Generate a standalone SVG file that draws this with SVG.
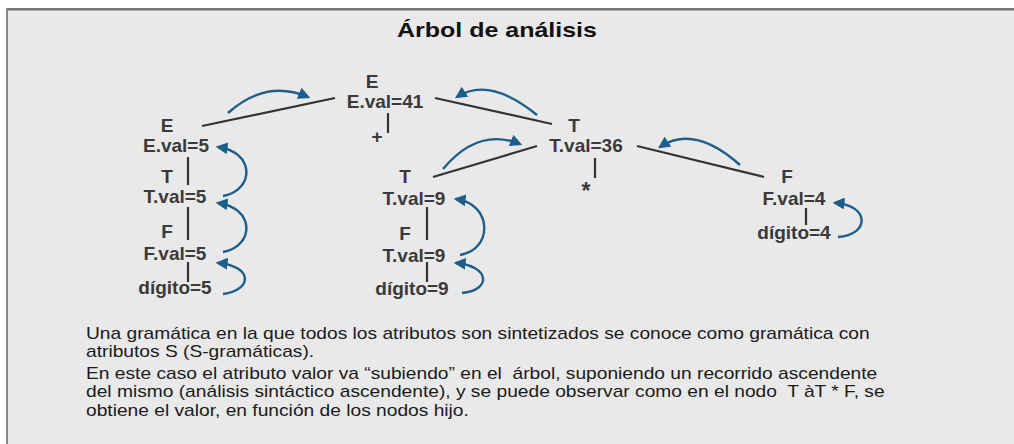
<svg xmlns="http://www.w3.org/2000/svg" width="1014" height="444" viewBox="0 0 1014 444">
<defs>
<marker id="ah" viewBox="0 0 10 10" refX="8" refY="5" markerWidth="5" markerHeight="5" orient="auto" markerUnits="strokeWidth">
<path d="M0,0 L10,5 L0,10 z" fill="#1d5e8a"/>
</marker>
<style>
.lbl{font-family:"Liberation Sans",Arial,sans-serif;font-weight:bold;font-size:19px;fill:#3a3a3a;text-anchor:middle}
.edge{stroke:#333;stroke-width:2.2;fill:none}
.arr{stroke:#1d5e8a;stroke-width:2.4;fill:none;marker-end:url(#ah)}
.body{font-family:"Liberation Sans",Arial,sans-serif;font-size:16px;fill:#1a1a1a;white-space:pre}
.title{font-family:"Liberation Sans",Arial,sans-serif;font-weight:bold;font-size:21px;fill:#111;text-anchor:middle}
</style>
</defs>
<rect x="0" y="0" width="1014" height="444" fill="#ffffff"/>
<rect x="6" y="8" width="1008" height="436" fill="#e9e9e9"/>
<rect x="6" y="8" width="1008" height="2.5" fill="#777"/>
<rect x="6" y="8" width="2" height="436" fill="#888"/>
<g id="title" transform="scale(1.19,1)"><text class="title" x="417.6" y="37">Árbol de análisis</text></g>
<g id="connectors">
<line class="edge" x1="202" y1="126" x2="335" y2="98"/>
<line class="edge" x1="435" y1="98" x2="552" y2="124"/>
<line class="edge" x1="433" y1="177" x2="537" y2="146"/>
<line class="edge" x1="637" y1="146" x2="764" y2="177"/>
<line class="edge" x1="388" y1="113" x2="388" y2="133"/>
<line class="edge" x1="188" y1="157" x2="188" y2="185"/>
<line class="edge" x1="188" y1="207" x2="188" y2="240"/>
<line class="edge" x1="188" y1="262" x2="188" y2="282"/>
<line class="edge" x1="595" y1="158" x2="595" y2="178"/>
<line class="edge" x1="427" y1="207" x2="427" y2="240"/>
<line class="edge" x1="427" y1="262" x2="427" y2="282"/>
<line class="edge" x1="806" y1="208" x2="806" y2="225"/>
<path class="arr" d="M228,113 Q266,79 308,97"/>
<path class="arr" d="M537,115 Q489,76 457,97"/>
<path class="arr" d="M443,169 Q478,127 520,144"/>
<path class="arr" d="M740,165 Q694,124 660,147"/>
<path class="arr" d="M838,237 C870,235 870,205 835,203"/>
<path class="arr" d="M223,196 C255,190 255,152 218,147"/>
<path class="arr" d="M223,252 C255,246 255,208 218,203"/>
<path class="arr" d="M223,294 C253,290 253,266 218,263"/>
<path class="arr" d="M460,255 C493,250 493,204 456,199"/>
<path class="arr" d="M462,293 C492,290 490,266 456,263"/>
</g>
<g id="node-E41"><text class="lbl" x="372" y="88">E</text><text class="lbl" x="385" y="108">E.val=41</text><text class="lbl" x="377" y="143">+</text></g>
<g id="node-E5"><text class="lbl" x="167" y="132">E</text><text class="lbl" x="176" y="152">E.val=5</text></g>
<g id="node-T5"><text class="lbl" x="167" y="183">T</text><text class="lbl" x="175" y="203">T.val=5</text></g>
<g id="node-F5"><text class="lbl" x="167" y="238">F</text><text class="lbl" x="175" y="260">F.val=5</text></g>
<g id="node-d5"><text class="lbl" x="175" y="294">dígito=5</text></g>
<g id="node-T36"><text class="lbl" x="574" y="132">T</text><text class="lbl" x="586" y="152">T.val=36</text><text class="lbl" x="586" y="199" style="font-size:23px">*</text></g>
<g id="node-T9"><text class="lbl" x="405" y="183">T</text><text class="lbl" x="414" y="205">T.val=9</text></g>
<g id="node-F9"><text class="lbl" x="405" y="240">F</text><text class="lbl" x="414" y="262">T.val=9</text></g>
<g id="node-d9"><text class="lbl" x="412" y="295">dígito=9</text></g>
<g id="node-F4"><text class="lbl" x="787" y="183">F</text><text class="lbl" x="794" y="205">F.val=4</text></g>
<g id="node-d4"><text class="lbl" x="794" y="239">dígito=4</text></g>
<g id="caption" transform="scale(1.2,1)">
<text class="body" x="71.67" y="339">Una gramática en la que todos los atributos son sintetizados se conoce como gramática con</text>
<text class="body" x="71.67" y="357">atributos S (S-gramáticas).</text>
<text class="body" x="71.67" y="379" xml:space="preserve">En este caso el atributo valor va “subiendo” en el  árbol, suponiendo un recorrido ascendente</text>
<text class="body" x="71.67" y="397" xml:space="preserve">del mismo (análisis sintáctico ascendente), y se puede observar como en el nodo  T àT * F, se</text>
<text class="body" x="71.67" y="416">obtiene el valor, en función de los nodos hijo.</text>
</g>
</svg>
